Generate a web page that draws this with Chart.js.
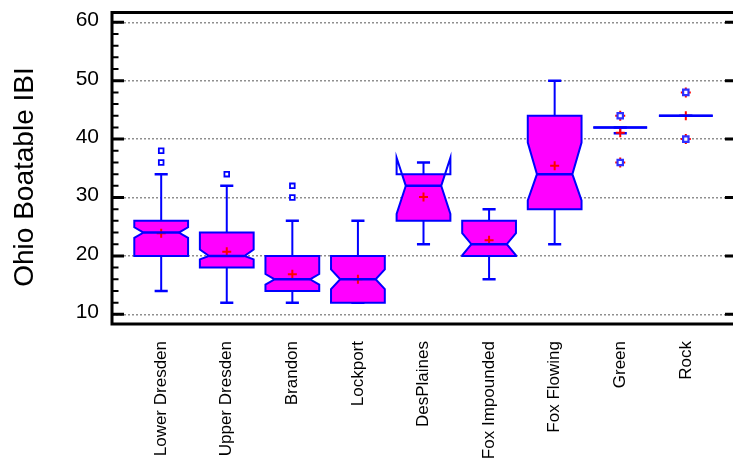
<!DOCTYPE html>
<html>
<head>
<meta charset="utf-8">
<script src="https://cdn.jsdelivr.net/npm/chart.js@4.4.1/dist/chart.umd.min.js"></script>
<style>
  html, body { margin: 0; padding: 0; background: #ffffff; }
  #wrap { width: 733px; height: 461px; overflow: hidden; position: relative; }
  canvas { display: block; }
</style>
</head>
<body>
<div id="wrap"><canvas id="chart" width="742" height="461" style="width:742px;height:461px"></canvas></div>
<script>
// Sites along the x axis
const categories = ['Lower Dresden', 'Upper Dresden', 'Brandon', 'Lockport', 'DesPlaines',
                    'Fox Impounded', 'Fox Flowing', 'Green', 'Rock'];
// Box statistics per site
const whiskerLow  = [14, 12, 12, 12, 22, 16, 22, 41, 44];
const q1          = [20, 18, 14, 12, 26, 20, 28, 42, 44];
const median      = [24, 20, 16, 16, 32, 22, 34, 42, 44];
const q3          = [26, 24, 20, 20, 34, 26, 44, 42, 44];
const whiskerHigh = [34, 32, 26, 26, 36, 28, 50, 42, 44];
const notchLow    = [23.1, 19.4, 15.1, 14.3, 27.2, 20.1, 29.5, 42, 44];
const notchHigh   = [24.9, 21.1, 16.9, 17.7, 36.8, 23.9, 39.4, 42, 44];
const means       = [23.9, 20.7, 16.85, 16.0, 30.1, 22.7, 35.45, 41.1, 44];
// Outside points and far-outside points
const outliers    = [[36, 38], [34], [30, 32], [], [], [], [], [], []];
const farOutliers = [[], [], [], [], [], [], [], [36, 44], [40, 48]];
// Axis ticks
const yTicks = [10, 20, 30, 40, 50, 60];
const yMinorTicks = [12, 14, 16, 18, 22, 24, 26, 28, 32, 34, 36, 38, 42, 44, 46, 48, 52, 54, 56, 58];
const yTitle = 'Ohio Boatable IBI';

const FONT = "'Liberation Sans', Arial, Helvetica, sans-serif";
const BOX_HALF = 0.41, NOTCH_HALF = 0.27, CAP_HALF = 0.1;

const meanPoints = means.map((v, i) => ({ x: i + 1, y: v }));
const outlierPoints = [];
outliers.forEach((arr, i) => arr.forEach(v => outlierPoints.push({ x: i + 1, y: v })));
const farPoints = [];
farOutliers.forEach((arr, i) => arr.forEach(v => farPoints.push({ x: i + 1, y: v })));

const boxPlot = {
  id: 'boxPlot',
  beforeDatasetsDraw(chart) {
    const { ctx, scales: { x, y } } = chart;
    ctx.save();
    categories.forEach((_, i) => {
      const c = i + 1;
      const L = x.getPixelForValue(c - BOX_HALF), R = x.getPixelForValue(c + BOX_HALF);
      const IL = x.getPixelForValue(c - NOTCH_HALF), IR = x.getPixelForValue(c + NOTCH_HALF);
      const yQ1 = y.getPixelForValue(q1[i]), yQ3 = y.getPixelForValue(q3[i]);
      const yM = y.getPixelForValue(median[i]);
      const yNL = y.getPixelForValue(notchLow[i]), yNH = y.getPixelForValue(notchHigh[i]);
      const cx = x.getPixelForValue(c);

      // whiskers and caps
      ctx.strokeStyle = '#0000ff';
      ctx.lineCap = 'butt';
      ctx.lineWidth = 2;
      ctx.beginPath();
      ctx.moveTo(cx, yQ3); ctx.lineTo(cx, y.getPixelForValue(whiskerHigh[i]));
      ctx.moveTo(cx, yQ1); ctx.lineTo(cx, y.getPixelForValue(whiskerLow[i]));
      ctx.stroke();
      ctx.lineWidth = 2.5;
      const cL = x.getPixelForValue(c - CAP_HALF), cR = x.getPixelForValue(c + CAP_HALF);
      ctx.beginPath();
      [whiskerHigh[i], whiskerLow[i]].forEach(v => {
        const yy = y.getPixelForValue(v);
        ctx.moveTo(cL, yy); ctx.lineTo(cR, yy);
      });
      ctx.stroke();

      // notched box outline
      const path = new Path2D();
      path.moveTo(L, yQ1);
      path.lineTo(L, yNL);
      path.lineTo(IL, yM);
      path.lineTo(L, yNH);
      path.lineTo(L, yQ3);
      path.lineTo(R, yQ3);
      path.lineTo(R, yNH);
      path.lineTo(IR, yM);
      path.lineTo(R, yNL);
      path.lineTo(R, yQ1);
      path.closePath();

      ctx.save();
      ctx.beginPath();
      ctx.rect(L - 2, yQ3, R - L + 4, yQ1 - yQ3);
      ctx.clip();
      ctx.fillStyle = '#ff00ff';
      ctx.fill(path);
      ctx.restore();

      ctx.lineWidth = 2;
      ctx.lineJoin = 'miter';
      ctx.strokeStyle = '#0000ff';
      ctx.stroke(path);
    });
    ctx.restore();
  },
  afterDatasetsDraw(chart) {
    const { ctx, scales: { x, y } } = chart;
    ctx.save();
    ctx.strokeStyle = '#0000ff';
    ctx.lineWidth = 2.5;
    categories.forEach((_, i) => {
      const c = i + 1;
      const yM = y.getPixelForValue(median[i]);
      const span = q1[i] === q3[i] ? BOX_HALF : NOTCH_HALF;
      ctx.beginPath();
      ctx.moveTo(x.getPixelForValue(c - span), yM);
      ctx.lineTo(x.getPixelForValue(c + span), yM);
      ctx.stroke();
    });
    ctx.restore();
  },
  afterDraw(chart) {
    const { ctx, chartArea: a, scales: { y } } = chart;
    ctx.save();
    // frame
    ctx.strokeStyle = '#000000';
    ctx.lineWidth = 3;
    ctx.strokeRect(a.left, a.top, a.right - a.left, a.bottom - a.top);
    // inward ticks
    ctx.lineWidth = 3;
    ctx.beginPath();
    yTicks.forEach(v => {
      const yy = y.getPixelForValue(v);
      ctx.moveTo(a.left, yy); ctx.lineTo(a.left + 12, yy);
      ctx.moveTo(a.right, yy); ctx.lineTo(a.right - 10, yy);
    });
    ctx.stroke();
    ctx.lineWidth = 2;
    ctx.beginPath();
    yMinorTicks.forEach(v => {
      const yy = y.getPixelForValue(v);
      ctx.moveTo(a.left, yy); ctx.lineTo(a.left + 6.5, yy);
    });
    ctx.stroke();
    // y axis title
    ctx.fillStyle = '#000000';
    ctx.font = '28px ' + FONT;
    ctx.textAlign = 'center';
    ctx.textBaseline = 'alphabetic';
    ctx.translate(33, 177);
    ctx.rotate(-Math.PI / 2);
    ctx.fillText(yTitle, 0, 0);
    ctx.restore();
  }
};

new Chart(document.getElementById('chart'), {
  type: 'scatter',
  data: {
    datasets: [
      {
        label: 'Mean',
        data: meanPoints,
        pointStyle: 'cross',
        radius: 4.5,
        borderColor: '#ff0000',
        borderWidth: 2
      },
      {
        label: 'Outside',
        data: outlierPoints,
        pointStyle: 'rect',
        radius: 3.3,
        borderColor: '#0000ff',
        backgroundColor: '#ffffff',
        borderWidth: 1.8
      },
      {
        label: 'Far outside',
        data: farPoints,
        pointStyle: 'rect',
        radius: 3.8,
        borderColor: '#3030ff',
        backgroundColor: '#ffffff',
        borderWidth: 2.2
      },
      {
        label: 'Far outside mark',
        data: farPoints,
        pointStyle: 'cross',
        radius: 5,
        borderColor: '#ff0000',
        borderWidth: 2
      }
    ]
  },
  options: {
    responsive: false,
    animation: false,
    devicePixelRatio: 1,
    layout: { padding: { top: 12.5, right: 3, bottom: 0, left: 0 } },
    plugins: { legend: { display: false }, tooltip: { enabled: false } },
    scales: {
      x: {
        type: 'linear',
        min: 0.25,
        max: 9.75,
        afterBuildTicks: s => { s.ticks = categories.map((_, i) => ({ value: i + 1 })); },
        afterFit: s => { s.height = 137; s.paddingLeft = 0; s.paddingRight = 0; },
        grid: { display: false, drawTicks: false },
        border: { display: false },
        ticks: {
          autoSkip: false,
          minRotation: 90,
          maxRotation: 90,
          padding: 17,
          color: '#000000',
          font: { family: FONT, size: 17 },
          callback: v => categories[Math.round(v) - 1]
        }
      },
      y: {
        type: 'linear',
        min: 8.34,
        max: 61.68,
        afterBuildTicks: s => { s.ticks = yTicks.map(v => ({ value: v })); },
        afterFit: s => { s.width = 112; s.paddingTop = 0; s.paddingBottom = 0; },
        grid: { color: '#8f8f8f', lineWidth: 1.5, drawTicks: false },
        border: { display: false, dash: [2, 2] },
        ticks: {
          padding: 13,
          labelOffset: -2,
          color: '#000000',
          font: { family: FONT, size: 21 }
        }
      }
    }
  },
  plugins: [boxPlot]
});
</script>
</body>
</html>
